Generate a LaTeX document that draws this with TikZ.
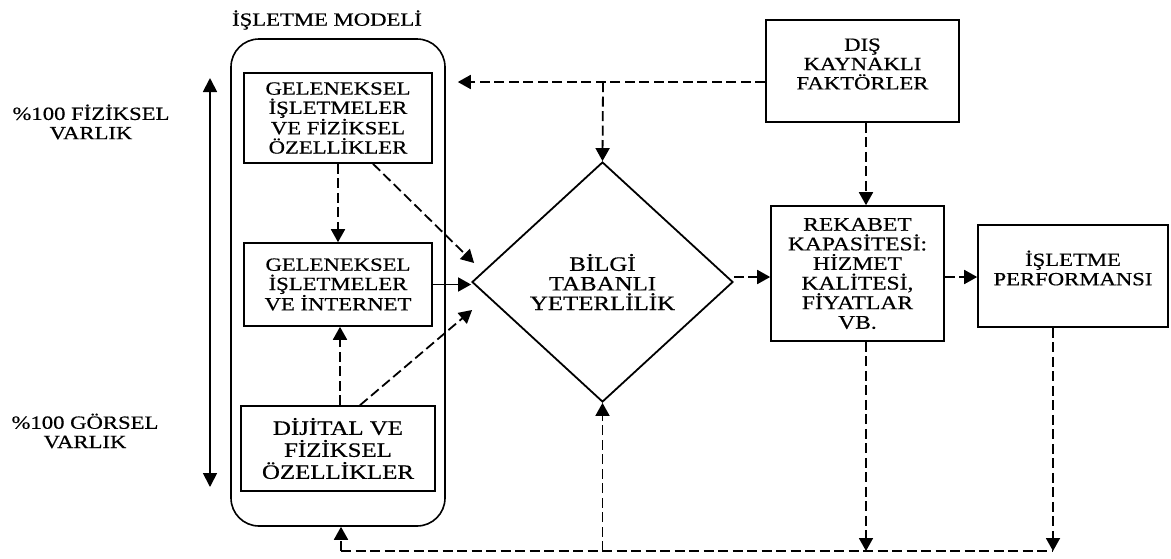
\documentclass[tikz,border=0pt]{standalone}
\usepackage{fontspec}
\setmainfont{Liberation Serif}[FakeStretch=1.22, FakeBold=0.6]
\usetikzlibrary{arrows.meta,shapes.geometric}
\begin{document}
\begin{tikzpicture}[x=1pt,y=-1pt,
  every node/.style={font=\fontsize{18.6}{19.3}\selectfont, align=center, inner sep=0pt},
  box/.style={draw, line width=1.6pt},
  bigtext/.style={font=\fontsize{20.4}{22}\selectfont},
  diatext/.style={font=\fontsize{20.4}{19.6}\selectfont},
  rektext/.style={font=\fontsize{19.3}{19.6}\selectfont},
  link/.style={line width=1.8pt, dash pattern=on 10pt off 4.5pt},
  solidlink/.style={line width=1.8pt},
  tip/.style={-{Triangle[length=13pt,width=14pt]}},
  bothtips/.style={{Triangle[length=14pt,width=14pt]}-{Triangle[length=14pt,width=14pt]}}]
\useasboundingbox (0,0) rectangle (1171,558);

% business model column
\node (title) at (327,20) {İŞLETME MODELİ};
\node[draw, line width=1.6pt, rounded corners=28pt, minimum width=214pt, minimum height=487pt] (model) at (338,282.5) {};
\node[box, minimum width=188pt, minimum height=90pt] (b1) at (338,118) {GELENEKSEL\\İŞLETMELER\\VE FİZİKSEL\\ÖZELLİKLER};
\node[box, minimum width=188pt, minimum height=83pt] (b2) at (338,284.5) {GELENEKSEL\\İŞLETMELER\\VE İNTERNET};
\node[box, bigtext, minimum width=194pt, minimum height=85pt] (b3) at (338,448.5) {DİJİTAL VE\\FİZİKSEL\\ÖZELLİKLER};

% physical / visual scale
\node (phys) at (91,122) {\%100 FİZİKSEL\\VARLIK};
\node (vis) at (85,431) {\%100 GÖRSEL\\VARLIK};
\coordinate (axTop) at (210,78);
\coordinate (axBot) at (210,487);
\draw[solidlink, bothtips] (axTop) -- (axBot);

% centre and right blocks
\node[draw, diamond, diatext, line width=1.8pt, minimum width=261pt, minimum height=240pt] (dia) at (602.5,282) {BİLGİ\\TABANLI\\YETERLİLİK};
\node[box, minimum width=193pt, minimum height=102pt] (dis) at (862.5,71) {};
\node (distext) at (862.5,64) {DIŞ\\KAYNAKLI\\FAKTÖRLER};
\node[box, rektext, minimum width=173pt, minimum height=135pt] (rek) at (857.5,273.5) {REKABET\\KAPASİTESİ:\\HİZMET\\KALİTESİ,\\FİYATLAR\\VB.};
\node[box, minimum width=190pt, minimum height=102pt] (perf) at (1073,276) {};
\node (perftext) at (1073,268) {İŞLETME\\PERFORMANSI};

% helper coordinates for the routing
\coordinate (jTop) at (603,82);
\coordinate (colL) at (341,0);
\coordinate (colR) at (866,0);
\coordinate (colP) at (1053,0);
\coordinate (rowR) at (0,277);
\coordinate (base) at (0,551);

% connectors inside the model column
\draw[link, tip] (b1.south) -- (b2.north);
\draw[link, tip] ([xshift=2pt]b3.north) -- ([xshift=2pt]b2.south);
\draw[link, tip] ([xshift=35pt]b1.south) -- ([shift={(3,-19)}]dia.west);
\draw[solidlink, tip] (b2.east) -- (dia.west |- b2.east);
\draw[link, tip] ([xshift=22pt]b3.north) -- ([shift={(1,28)}]dia.west);

% external factors
\draw[link, tip] (dis.west |- jTop) -- ([xshift=12pt]model.east |- jTop);
\draw[link, tip] (jTop) -- (dia.north);
\draw[link, tip] (dis.south -| colR) -- (rek.north -| colR);

% main flow
\draw[link, tip] (dia.east |- rowR) -- (rek.west |- rowR);
\draw[link, tip] (rek.east |- rowR) -- (perf.west |- rowR);

% feedback loop along the bottom
\draw[link, tip] (rek.south -| colR) -- (colR |- base);
\draw[link, tip] (perf.south -| colP) -- (colP |- base);
\draw[link] (colL |- base) -- (colP |- base);
\draw[link, tip] (dia.south |- base) -- (dia.south);
\draw[link, tip] (colL |- base) -- (model.south -| colL);
\end{tikzpicture}
\end{document}
